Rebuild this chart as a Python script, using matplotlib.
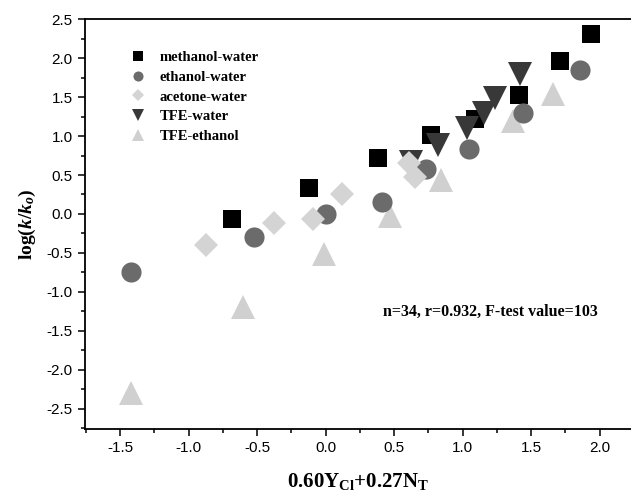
import numpy as np
import matplotlib
matplotlib.use("Agg")
import matplotlib.pyplot as plt
from matplotlib.ticker import MultipleLocator

plt.rcParams['axes.unicode_minus'] = False
plt.rcParams['mathtext.fontset'] = 'custom'
plt.rcParams['mathtext.rm'] = 'Liberation Serif:bold'
plt.rcParams['mathtext.bf'] = 'Liberation Serif:bold'
plt.rcParams['mathtext.it'] = 'Liberation Serif:italic:bold'

# data
meth_x = [-0.68, -0.12, 0.38, 0.77, 1.09, 1.41, 1.71, 1.94]
meth_y = [-0.06, 0.33, 0.72, 1.01, 1.22, 1.53, 1.97, 2.31]
eth_x = [-1.42, -0.52, 0.0, 0.41, 0.73, 1.05, 1.44, 1.86]
eth_y = [-0.75, -0.30, 0.00, 0.15, 0.58, 0.84, 1.30, 1.85]
acet_x = [-0.87, -0.38, -0.09, 0.12, 0.61, 0.65]
acet_y = [-0.40, -0.12, -0.07, 0.25, 0.65, 0.47]
tfew_x = [0.62, 0.82, 1.03, 1.16, 1.24, 1.42]
tfew_y = [0.67, 0.88, 1.10, 1.30, 1.49, 1.80]
tfee_x = [-1.42, -0.60, -0.01, 0.47, 0.84, 1.37, 1.66]
tfee_y = [-2.30, -1.20, -0.52, -0.03, 0.43, 1.19, 1.54]

fig = plt.figure(figsize=(6.31, 4.93), dpi=100)
ax = fig.add_axes([0.134, 0.130, 0.866, 0.831])

ax.plot(meth_x, meth_y, 's', color='#000000', ms=13, mew=0, label='methanol-water')
ax.plot(tfee_x, tfee_y, '^', color='#d0d0d0', ms=17, mew=0, label='TFE-ethanol')
ax.plot(tfew_x, tfew_y, 'v', color='#383838', ms=17, mew=0, label='TFE-water')
ax.plot(eth_x, eth_y, 'o', color='#6b6b6b', ms=14.5, mew=0, label='ethanol-water')
ax.plot(acet_x, acet_y, 'D', color='#d4d4d4', ms=12.5, mew=0, label='acetone-water')

ax.set_xlim(-1.76, 2.23)
ax.set_ylim(-2.76, 2.5)
ax.xaxis.set_major_locator(MultipleLocator(0.5))
ax.xaxis.set_minor_locator(MultipleLocator(0.25))
ax.yaxis.set_major_locator(MultipleLocator(0.5))
ax.yaxis.set_minor_locator(MultipleLocator(0.25))
ax.tick_params(which='both', direction='out', width=1.1, top=False, right=False)
ax.tick_params(which='major', length=5, labelsize=11)
ax.tick_params(which='minor', length=3)
for lab in ax.get_xticklabels() + ax.get_yticklabels():
    lab.set_family('Liberation Sans')
for s in ['left', 'bottom', 'top']:
    ax.spines[s].set_linewidth(1.3)
ax.spines['right'].set_visible(False)

ax.set_xlabel(r'$\mathrm{0.60Y_{Cl}{+}0.27N_T}$', fontsize=15, labelpad=12)
ax.set_ylabel(r'$\mathrm{log(}k/k_o\mathrm{)}$', fontsize=14, labelpad=6)

ax.text(1.2, -1.26, 'n=34, r=0.932, F-test value=103', fontsize=11.5,
        family='Liberation Serif', weight='bold', ha='center', va='center')

h, l = ax.get_legend_handles_labels()
order = [0, 3, 4, 2, 1]
ax.legend([h[i] for i in order], [l[i] for i in order], loc='upper left',
          bbox_to_anchor=(0.06, 0.955), frameon=False, markerscale=0.5,
          handlelength=1.0, handletextpad=1.0, labelspacing=0.45,
          prop={'family': 'Liberation Serif', 'weight': 'bold', 'size': 10.5})

fig.savefig('out.png', dpi=100)
